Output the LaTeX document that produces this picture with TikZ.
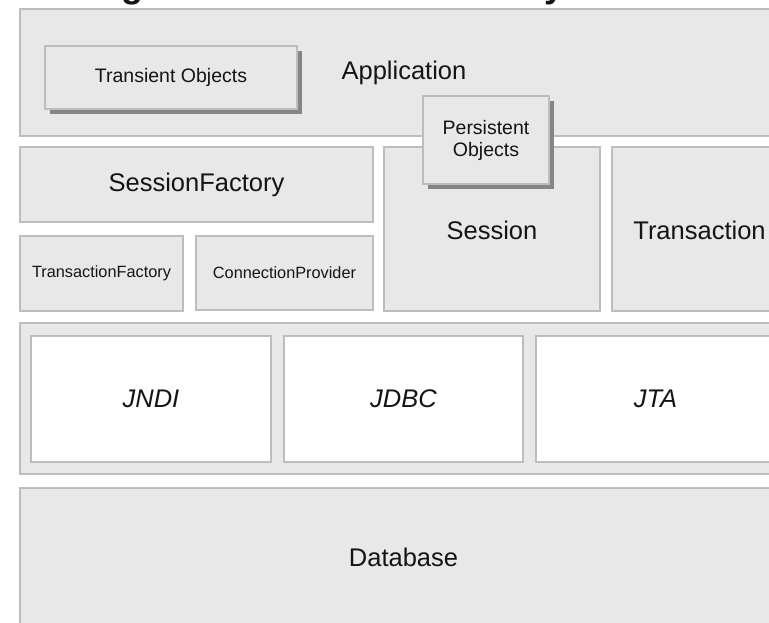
\documentclass[tikz,border=0pt]{standalone}
\usepackage{fontspec}
\setmainfont{Liberation Sans}
\usetikzlibrary{shadows}

\definecolor{boxfill}{HTML}{E8E8E8}
\definecolor{boxline}{HTML}{BDBDBD}
\definecolor{shade}{HTML}{858585}
\definecolor{ink}{HTML}{141414}

\newcommand{\bigtxt}{\fontsize{25.5}{28}\selectfont}
\newcommand{\midtxt}{\fontsize{19.5}{22}\selectfont}
\newcommand{\smalltxt}{\fontsize{16.3}{18}\selectfont}

\tikzset{
  panel/.style={draw=boxline, fill=boxfill, line width=1.2pt, inner sep=0pt,
    outer sep=0pt, anchor=north west, text=ink, font=\bigtxt},
  apibox/.style={panel, fill=white, font=\bigtxt\itshape},
  objbox/.style={panel, font=\midtxt, align=center,
    drop shadow={shadow xshift=5pt, shadow yshift=-5pt, fill=shade, opacity=1}},
  label/.style={text=ink, inner sep=0pt},
}

\begin{document}
\begin{tikzpicture}[x=1pt, y=-1pt]
  \useasboundingbox (0,0) rectangle (769,622);
  \clip (0,0) rectangle (769,622);

  % heading above the diagram, cut by the top edge
  \node[label, anchor=base, font=\fontsize{36}{40}\selectfont\bfseries] (hg) at (132,-3) {g};
  \node[label, anchor=base, font=\fontsize{36}{40}\selectfont\bfseries] (hy) at (555,-3) {y};

  % application layer
  \node[panel, minimum width=767pt, minimum height=127pt] (app) at (20,9) {};
  \node[label, font=\bigtxt] (applbl) at (404,73) {Application};
  \node[objbox, minimum width=252pt, minimum height=63pt] (trans) at (45,46) {Transient Objects};

  % Hibernate core
  \node[panel, minimum width=353pt, minimum height=75pt] (sf) at (20,147) {SessionFactory};
  \node[panel, font=\smalltxt, minimum width=163pt, minimum height=75pt] (tf) at (20,236) {TransactionFactory};
  \node[panel, font=\smalltxt, minimum width=177pt, minimum height=74pt] (cp) at (196,236) {ConnectionProvider};
  \node[panel, minimum width=216pt, minimum height=164pt] (sess) at (384,147) {};
  \node[label, font=\bigtxt] (sesslbl) at (492,230) {Session};
  \node[panel, minimum width=176pt, minimum height=164pt] (tx) at (612,147) {};
  \node[label, font=\bigtxt] (txlbl) at (699.5,230) {Transaction};

  \node[objbox, minimum width=126pt, minimum height=88pt] (pers) at (423,96) {Persistent\\Objects};

  % Java APIs
  \node[panel, minimum width=767pt, minimum height=151pt] (apis) at (20,323) {};
  \node[apibox, minimum width=240pt, minimum height=126pt] (jndi) at (31,336) {JNDI};
  \node[apibox, minimum width=239pt, minimum height=126pt] (jdbc) at (284,336) {JDBC};
  \node[apibox, minimum width=239pt, minimum height=126pt] (jta) at (536,336) {JTA};

  % database
  \node[panel, minimum width=767pt, minimum height=140pt] (db) at (20,488) {};
  \node[label, font=\bigtxt] (dblbl) at (403.5,557) {Database};
\end{tikzpicture}
\end{document}
